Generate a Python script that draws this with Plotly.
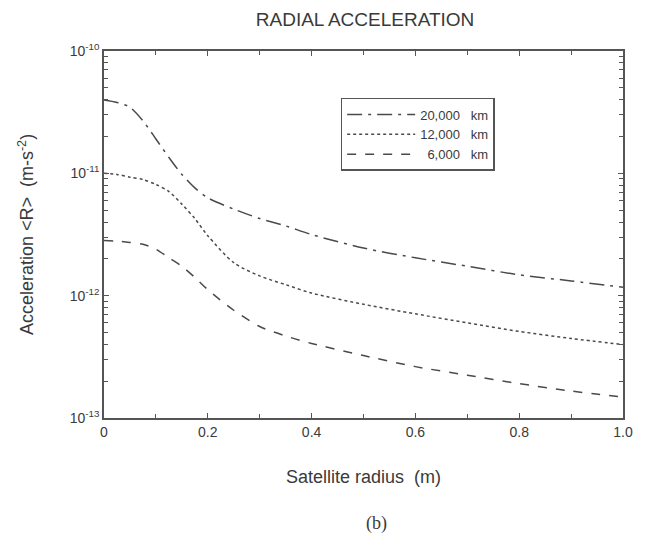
import plotly.graph_objects as go

# Satellite radius (m)
radius = [0, 0.025, 0.05, 0.075, 0.1, 0.125, 0.15, 0.175, 0.2, 0.25, 0.3, 0.35,
          0.4, 0.5, 0.6, 0.7, 0.8, 0.9, 1.0]

# Radial acceleration <R> (m s^-2)
acc_20000 = [3.98e-11, 3.80e-11, 3.47e-11, 2.69e-11, 1.91e-11, 1.35e-11, 9.8e-12,
             7.6e-12, 6.3e-12, 5.1e-12, 4.27e-12, 3.72e-12, 3.16e-12, 2.45e-12,
             2.04e-12, 1.74e-12, 1.48e-12, 1.32e-12, 1.17e-12]
acc_12000 = [1.0e-11, 9.8e-12, 9.3e-12, 8.9e-12, 8.1e-12, 7.1e-12, 5.6e-12,
             4.27e-12, 3.09e-12, 1.86e-12, 1.45e-12, 1.23e-12, 1.05e-12, 8.5e-13,
             7.1e-13, 6.0e-13, 5.1e-13, 4.47e-13, 3.98e-13]
acc_6000 = [2.82e-12, 2.79e-12, 2.72e-12, 2.63e-12, 2.40e-12, 2.04e-12, 1.74e-12,
            1.41e-12, 1.12e-12, 7.6e-13, 5.6e-13, 4.68e-13, 4.07e-13, 3.24e-13,
            2.63e-13, 2.24e-13, 1.91e-13, 1.66e-13, 1.48e-13]

NB = "\u00a0"
series_names = ["20,000" + NB * 3 + "km", "12,000" + NB * 3 + "km",
                NB * 2 + "6,000" + NB * 3 + "km"]

x_tickvals = [0, 0.2, 0.4, 0.6, 0.8, 1.0]
x_ticktext = ["0", "0.2", "0.4", "0.6", "0.8", "1.0"]
y_tickvals = [1e-13, 1e-12, 1e-11, 1e-10]
y_ticktext = ["10<sup>-13</sup>", "10<sup>-12</sup>", "10<sup>-11</sup>", "10<sup>-10</sup>"]

line_color = "#4a4a4a"
text_color = "#3a3a3a"
axis_color = "#555555"
dashes = ["longdashdot", "dot", "dash"]

fig = go.Figure()
for name, ys, dash in zip(series_names, [acc_20000, acc_12000, acc_6000], dashes):
    fig.add_trace(go.Scatter(
        x=radius, y=ys, mode="lines", name=name,
        line=dict(color=line_color, width=1.5, dash=dash, shape="spline", smoothing=0.8),
    ))

font = dict(family="Liberation Sans, Arial, sans-serif", color=text_color)

fig.update_layout(
    width=645, height=539,
    paper_bgcolor="white", plot_bgcolor="white",
    margin=dict(l=104, r=17, t=51, b=121),
    font=dict(**font, size=13),
    title=dict(text="RADIAL ACCELERATION", x=0.566, xanchor="center", y=0.964,
               yanchor="middle", font=dict(**font, size=19)),
    showlegend=True,
    legend=dict(x=0.456, y=0.872, xanchor="left", yanchor="top",
                bordercolor=axis_color, borderwidth=1.5, bgcolor="white",
                font=dict(**font, size=13), itemwidth=68, tracegroupgap=0),
    xaxis=dict(
        range=[0, 1.0], tickvals=x_tickvals, ticktext=x_ticktext,
        ticks="inside", ticklen=5, tickcolor=axis_color,
        showline=True, linecolor=axis_color, linewidth=1.5, mirror="allticks",
        showgrid=False, zeroline=False,
        minor=dict(ticks="inside", ticklen=4, dtick=0.1, tickcolor=axis_color, showgrid=False),
        title=dict(text="Satellite radius" + NB * 2 + "(m)", standoff=32,
                   font=dict(**font, size=18)),
        tickfont=dict(**font, size=14),
    ),
    yaxis=dict(
        type="log", range=[-13, -10], tickvals=y_tickvals, ticktext=y_ticktext,
        ticks="inside", ticklen=5, tickcolor=axis_color,
        showline=True, linecolor=axis_color, linewidth=1.5, mirror="allticks",
        showgrid=False, zeroline=False,
        minor=dict(ticks="inside", ticklen=4, dtick="D1", tickcolor=axis_color, showgrid=False),
        title=dict(text="Acceleration &lt;R&gt;" + NB * 2 + "(m-s<sup>-2</sup>)", standoff=31,
                   font=dict(**font, size=18)),
        tickfont=dict(**font, size=14),
    ),
    annotations=[dict(text="(b)", xref="paper", yref="paper", x=0.525, y=-0.287,
                      showarrow=False, xanchor="center", yanchor="middle",
                      font=dict(family="Liberation Serif, Times New Roman, serif",
                                size=18, color=text_color))],
)

fig.write_html("out.html", config={"displayModeBar": False},
               post_script="document.body.style.margin='0px';document.body.style.overflow='hidden';")
